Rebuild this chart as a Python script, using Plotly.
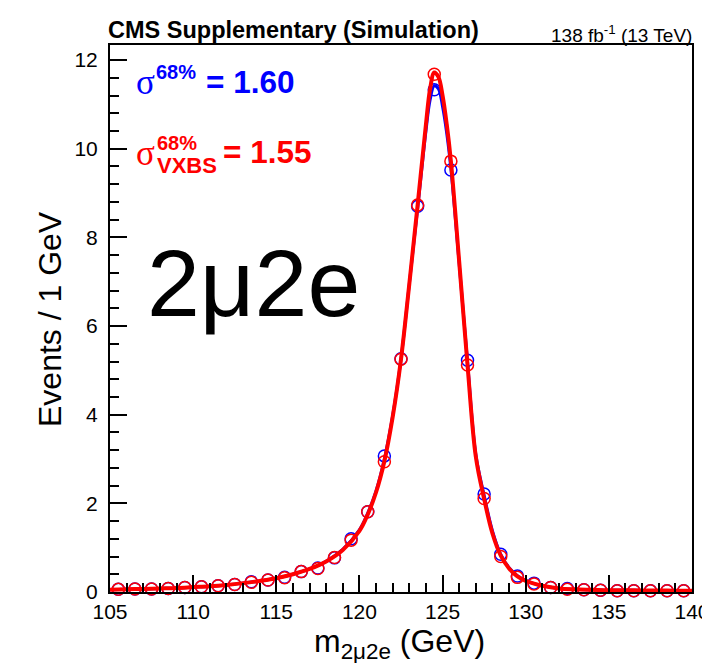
import plotly.graph_objects as go

# ---- data ----
bin_centers = [105.5, 106.5, 107.5, 108.5, 109.5, 110.5, 111.5, 112.5, 113.5, 114.5,
               115.5, 116.5, 117.5, 118.5, 119.5, 120.5, 121.5, 122.5, 123.5, 124.5,
               125.5, 126.5, 127.5, 128.5, 129.5, 130.5, 131.5, 132.5, 133.5, 134.5,
               135.5, 136.5, 137.5, 138.5, 139.5]
blue_points = [0.06, 0.07, 0.07, 0.08, 0.10, 0.12, 0.14, 0.17, 0.23, 0.27,
               0.33, 0.46, 0.54, 0.77, 1.20, 1.81, 3.07, 5.26, 8.70, 11.33,
               9.52, 5.23, 2.21, 0.85, 0.36, 0.20, 0.10, 0.08, 0.05, 0.04,
               0.03, 0.03, 0.03, 0.03, 0.03]
red_points = [0.06, 0.07, 0.07, 0.08, 0.10, 0.12, 0.14, 0.17, 0.22, 0.27,
              0.32, 0.46, 0.53, 0.78, 1.17, 1.81, 2.94, 5.25, 8.73, 11.68,
              9.72, 5.12, 2.11, 0.80, 0.33, 0.18, 0.10, 0.06, 0.05, 0.04,
              0.03, 0.03, 0.03, 0.03, 0.03]

curve_x = [105, 106, 107, 108, 109, 110, 111, 112, 113, 114, 115, 116, 117, 118, 119,
           120, 120.5, 121, 121.5, 122, 122.5, 123, 123.5, 124, 124.25, 124.5, 124.75,
           125, 125.25, 125.5, 126, 126.5, 127, 127.5, 128, 128.5, 129, 129.5, 130,
           130.5, 131, 132, 133, 134, 135, 136, 137, 138, 139, 140]
blue_curve = [0.05, 0.06, 0.07, 0.08, 0.09, 0.11, 0.13, 0.16, 0.20, 0.25, 0.31, 0.40,
              0.52, 0.69, 0.96, 1.40, 1.78, 2.28, 3.00, 3.98, 5.25, 6.95, 8.65, 10.40,
              11.10, 11.42, 11.35, 10.95, 10.35, 9.55, 7.40, 5.20, 3.10, 2.18, 1.38,
              0.85, 0.55, 0.37, 0.26, 0.19, 0.14, 0.08, 0.06, 0.05, 0.04, 0.04, 0.035,
              0.035, 0.03, 0.03]
red_curve = [0.05, 0.06, 0.07, 0.08, 0.09, 0.11, 0.13, 0.16, 0.20, 0.25, 0.31, 0.40,
             0.52, 0.69, 0.95, 1.38, 1.75, 2.25, 2.95, 3.95, 5.25, 6.95, 8.73, 10.55,
             11.35, 11.72, 11.62, 11.20, 10.55, 9.72, 7.45, 5.12, 3.05, 2.10, 1.32,
             0.82, 0.53, 0.35, 0.25, 0.19, 0.14, 0.08, 0.06, 0.05, 0.04, 0.04, 0.035,
             0.035, 0.03, 0.03]

x_ticks = [105, 110, 115, 120, 125, 130, 135, 140]
y_ticks = [0, 2, 4, 6, 8, 10, 12]

BLUE = "#0000ff"
RED = "#ff0000"
SANS = "Liberation Sans, Arial, Helvetica, sans-serif"
SERIF = "Liberation Serif, Times New Roman, serif"

W, H = 702, 663
L, R, T, B = 110, 10, 45, 71
PW, PH = W - L - R, H - T - B


def px(x):
    return (x - L) / PW


def py(y):
    return (H - B - y) / PH


fig = go.Figure()
fig.add_trace(go.Scatter(x=bin_centers, y=blue_points, mode="markers", cliponaxis=False,
                         marker=dict(symbol="circle-open", size=12, color=BLUE,
                                     line=dict(width=1.5, color=BLUE)), showlegend=False))
fig.add_trace(go.Scatter(x=curve_x, y=blue_curve, mode="lines",
                         line=dict(color=BLUE, width=3, shape="spline"), showlegend=False))
fig.add_trace(go.Scatter(x=bin_centers, y=red_points, mode="markers", cliponaxis=False,
                         marker=dict(symbol="circle-open", size=12, color=RED,
                                     line=dict(width=1.5, color=RED)), showlegend=False))
fig.add_trace(go.Scatter(x=curve_x, y=red_curve, mode="lines",
                         line=dict(color=RED, width=4, shape="spline"), showlegend=False))

annotations = []


def ann(text, x, y, size, color="black", family=SANS, xanchor="left", yanchor="middle", angle=0):
    annotations.append(dict(text=text, x=px(x), y=py(y), xref="paper", yref="paper",
                            xanchor=xanchor, yanchor=yanchor, showarrow=False, textangle=angle,
                            font=dict(size=size, color=color, family=family)))


# header
ann("<b>CMS Supplementary (Simulation)</b>", 106, 30, 23.5)
ann("138 fb<sup>-1</sup> (13 TeV)", 694, 34, 19, xanchor="right")

# sigma labels
ann("σ", 134, 83, 35, BLUE, SERIF)
ann("<b>68%</b>", 154, 72, 20, BLUE)
ann("<b>= 1.60</b>", 204, 82, 31.5, BLUE)

ann("σ", 134, 153, 35, RED, SERIF)
ann("<b>68%</b>", 155, 143, 20, RED)
ann("<b>VXBS</b>", 155, 165, 22, RED)
ann("<b>= 1.55</b>", 221, 152, 31.5, RED)

# channel label
ann("2μ2e", 145, 283, 95)

# axis titles
ann("Events / 1 GeV", 50, 319, 32, angle=-90, xanchor="center")
ann("m<sub>2μ2e</sub> (GeV)", 399, 643, 32, xanchor="center")

fig.update_layout(
    width=W, height=H, margin=dict(l=L, r=R, t=T, b=B, pad=0, autoexpand=False),
    paper_bgcolor="white", plot_bgcolor="white",
    font=dict(family=SANS, color="black", size=21),
    annotations=annotations,
    xaxis=dict(range=[105, 140], tickvals=x_ticks, ticktext=[str(v) for v in x_ticks],
               ticks="inside", ticklen=17, tickwidth=1.5, tickcolor="black",
               minor=dict(dtick=1, ticks="inside", ticklen=9, tickwidth=1.5, tickcolor="black"),
               showline=True, linecolor="black", linewidth=2, mirror=True,
               showgrid=False, zeroline=False, tickfont=dict(size=21, family=SANS),
               ticklabelstandoff=0, ticklabeloverflow="allow", automargin=False),
    yaxis=dict(range=[0, 12.34], tickvals=y_ticks, ticktext=[str(v) for v in y_ticks],
               ticks="inside", ticklen=17, tickwidth=1.5, tickcolor="black",
               minor=dict(dtick=0.4, ticks="inside", ticklen=9, tickwidth=1.5, tickcolor="black"),
               showline=True, linecolor="black", linewidth=2, mirror=True,
               showgrid=False, zeroline=False, tickfont=dict(size=21, family=SANS),
               ticklabelstandoff=6, automargin=False),
)

fig.write_html("out.html", config={"displayModeBar": False},
               post_script="document.body.style.margin='0px';document.body.style.overflow='hidden';")
